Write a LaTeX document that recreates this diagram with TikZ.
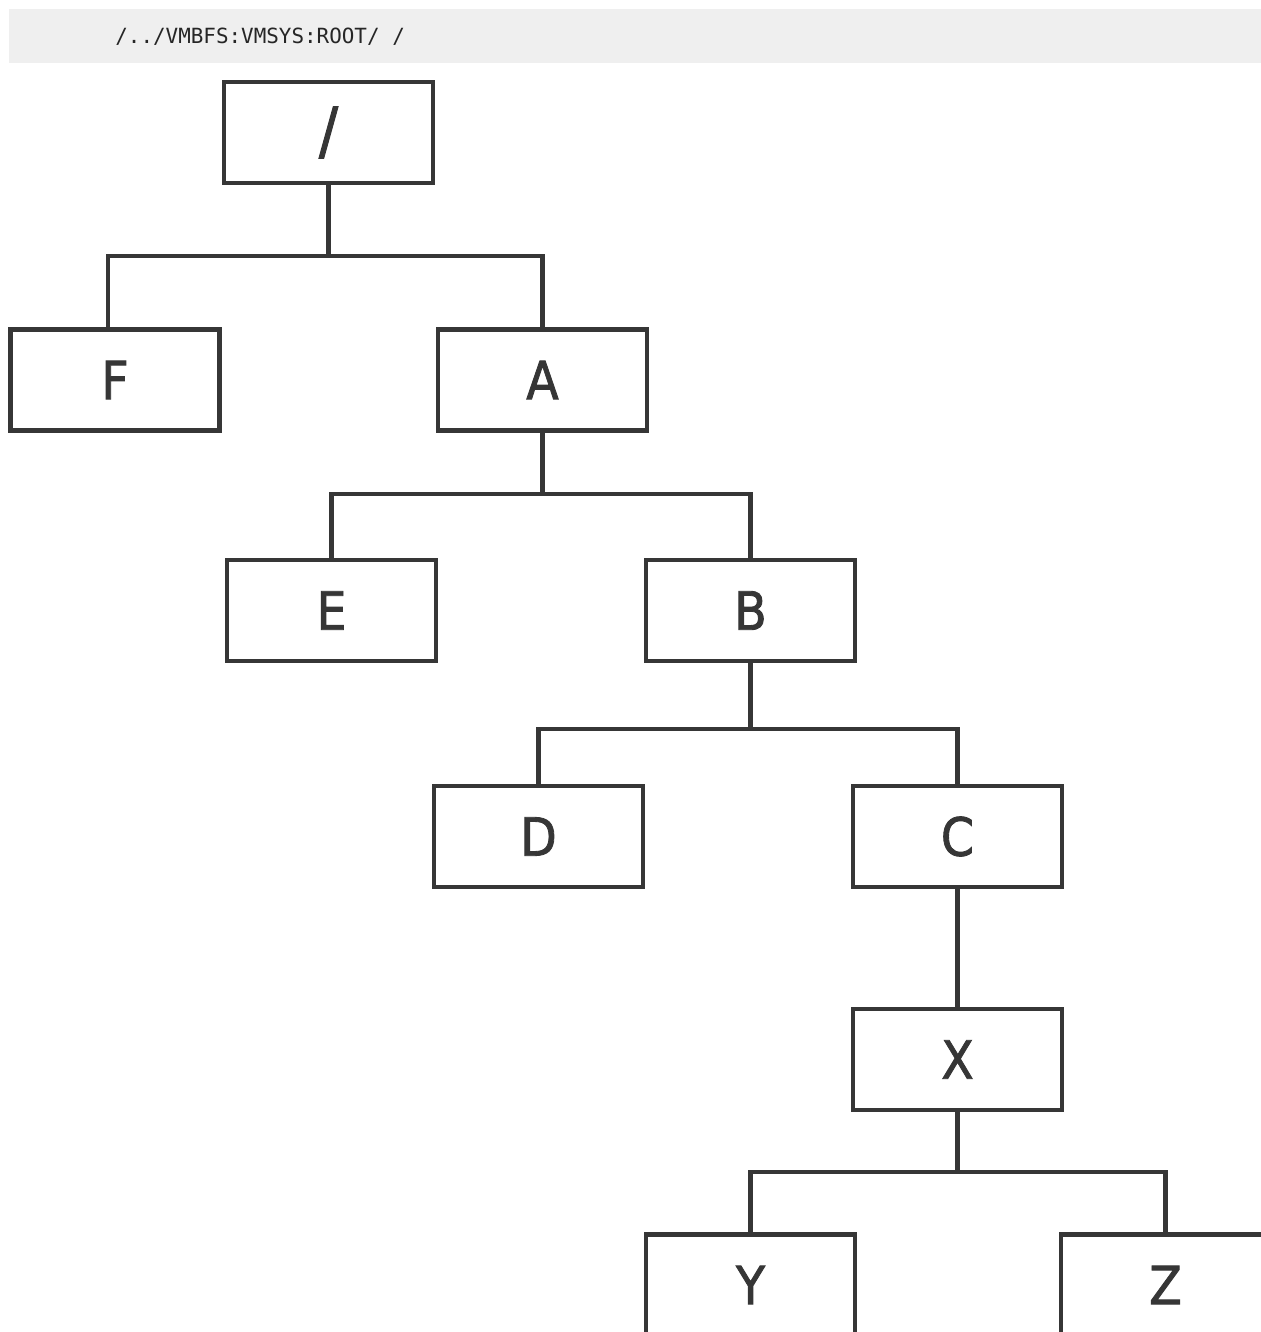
\documentclass[tikz,border=0pt]{standalone}
\usepackage{fontspec}
\setmonofont{DejaVu Sans Mono}
\newfontfamily\boxfont[FakeBold=1.6]{DejaVu Sans Condensed}
\usetikzlibrary{calc}
\definecolor{inkgray}{HTML}{363636}
\definecolor{barbg}{HTML}{EFEFEF}

\begin{document}
\begin{tikzpicture}[x=0.02cm,y=-0.02cm,
  box/.style={draw=inkgray,line width=2.6pt,minimum width=4.18cm,minimum height=2.02cm,
    inner sep=0pt,text=inkgray,font=\boxfont\fontsize{30}{36}\selectfont},
  link/.style={draw=inkgray,line width=2.6pt}]
\useasboundingbox (0,0) rectangle (1261,1332);
\clip (0,0) rectangle (1261,1332);
% path bar
\fill[barbg] (9,9) rectangle (1261,63);
\node[anchor=base west,inner sep=0pt,text=black!85,font=\ttfamily\fontsize{11.9}{14}\selectfont]
  (path) at (115,43) {/../VMBFS:VMSYS:ROOT/ /};
% boxes
\node[box,font=\boxfont\fontsize{36}{40}\selectfont] (root) at (328.5,132.5) {/};
\node[box] (F) at (115,380) {F};
\node[box] (A) at (542.5,380) {A};
\node[box] (E) at (331.5,610.5) {E};
\node[box] (B) at (750.5,610.5) {B};
\node[box] (D) at (538.5,836.5) {D};
\node[box] (C) at (957.5,836.5) {C};
\node[box] (X) at (957.5,1059.5) {X};
\node[box] (Y) at (750.5,1285) {Y};
\node[box] (Z) at (1165.5,1285) {Z};
% links
\draw[link] (root.south) -- ++(0,73);
\draw[link] ([xshift=-0.14cm]F.north) |- (root.south |- 0,256) -| (A.north);
\draw[link] (A.south) -- ++(0,63);
\draw[link] (E.north) |- (A.south |- 0,494) -| (B.north);
\draw[link] (B.south) -- ++(0,68);
\draw[link] (D.north) |- (B.south |- 0,729) -| (C.north);
\draw[link] (C.south) -- (X.north);
\draw[link] (X.south) -- ++(0,62);
\draw[link] (Y.north) |- (X.south |- 0,1172) -| (Z.north);
\end{tikzpicture}
\end{document}
